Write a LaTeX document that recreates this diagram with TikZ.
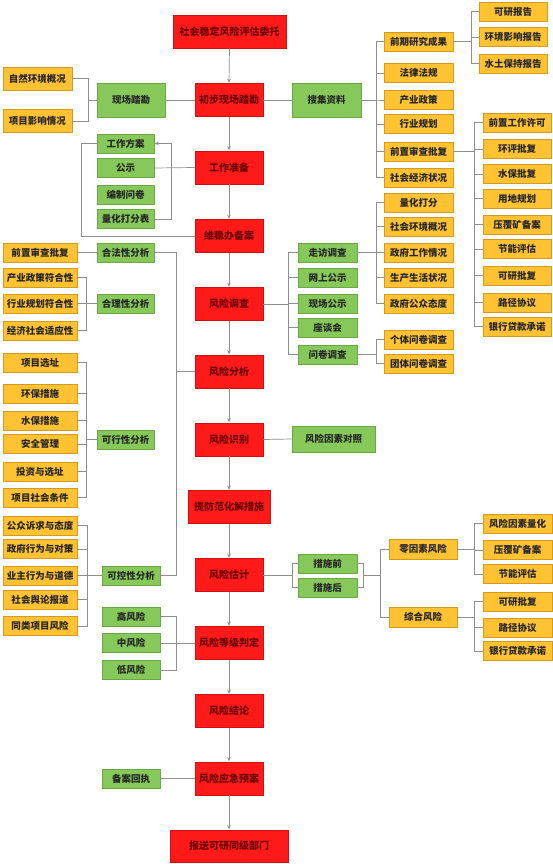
\documentclass[tikz,border=0pt]{standalone}
\usepackage{fontspec}
\setmainfont{Noto Sans CJK SC}
\usetikzlibrary{arrows.meta,calc}
\definecolor{rfill}{HTML}{FF1A1A}
\definecolor{rline}{HTML}{D01010}
\definecolor{rtext}{HTML}{6A0000}
\definecolor{gfill}{HTML}{86C95A}
\definecolor{gline}{HTML}{6AA844}
\definecolor{ofill}{HTML}{FFC233}
\definecolor{oline}{HTML}{D29A1E}
\definecolor{lcol}{HTML}{8E8E8E}
\tikzset{
  box/.style={inner sep=0pt, line width=0.8pt, font=\fontsize{9.5}{11}\selectfont\bfseries, text=black!85},
  redbox/.style={box, fill=rfill, draw=rline, text=rtext, minimum width=68pt, minimum height=33pt, font=\fontsize{10}{12}\selectfont\bfseries},
  grnbox/.style={box, fill=gfill, draw=gline, minimum width=57pt, minimum height=19pt},
  orgbox/.style={box, fill=ofill, draw=oline, minimum width=69pt, minimum height=19pt},
  conn/.style={draw=lcol, line width=0.7pt},
  flow/.style={conn, -{Stealth[length=4pt,width=3.5pt]}, shorten >=0.3pt},
}
\begin{document}
\begin{tikzpicture}[x=1pt,y=-1pt]
\useasboundingbox[fill=white] (0,0) rectangle (553,864);
% ---- main red column
\node[redbox, minimum width=113pt] (r1) at (229.5,31.5) {社会稳定风险评估委托};
\node[redbox] (r2) at (229,100) {初步现场踏勘};
\node[redbox] (r3) at (229,167.5) {工作准备};
\node[redbox] (r4) at (229,236) {维稳办备案};
\node[redbox] (r5) at (229,304) {风险调查};
\node[redbox] (r6) at (229,371.5) {风险分析};
\node[redbox] (r7) at (229,439.5) {风险识别};
\node[redbox, minimum width=82pt] (r8) at (229,507) {提防范化解措施};
\node[redbox] (r9) at (229,575) {风险估计};
\node[redbox] (r10) at (229,643) {风险等级判定};
\node[redbox] (r11) at (229,711) {风险结论};
\node[redbox] (r12) at (229,778.5) {风险应急预案};
\node[redbox, minimum width=118pt, minimum height=32pt] (r13) at (229,846) {报送可研同级部门};
\foreach \a/\b in {r1/r2,r2/r3,r3/r4,r4/r5,r5/r6,r6/r7,r7/r8,r8/r9,r9/r10,r10/r11,r11/r12,r12/r13}
  \draw[flow] (\a.south) -- (\b.north);

% ---- left: 现场踏勘
\node[grnbox, minimum width=68pt, minimum height=34pt] (xckc) at (131,100) {现场踏勘};
\node[orgbox, minimum height=23pt] (zr) at (37.5,78.5) {自然环境概况};
\node[orgbox, minimum height=23pt] (xm) at (37.5,121) {项目影响情况};
\draw[conn] (xckc.east) -- (r2.west);
\draw[conn] (zr.east) -- ++(16,0) |- (xckc.west);
\draw[conn] (xm.east) -- ++(16,0) |- (xckc.west);

% ---- left: 工作准备 group
\node[grnbox] (gzfa) at (125.5,143.5) {工作方案};
\node[grnbox] (gs) at (125.5,168) {公示};
\node[grnbox] (bzwj) at (125.5,194.5) {编制问卷};
\node[grnbox] (lh) at (125.5,219) {量化打分表};
\draw[conn] (r3.west) -- (gs.east);
\draw[flow] (lh.east) -- ++(17,0) |- (gzfa.east);
\draw[conn] (gzfa.west) -- ++(-15,0) |- (r4.west);

% ---- left: analysis
\node[grnbox] (hf) at (125.5,252.5) {合法性分析};
\node[grnbox] (hl) at (125.5,303.5) {合理性分析};
\node[grnbox] (kx) at (125.5,439.5) {可行性分析};
\node[grnbox, minimum width=58pt] (kk) at (131,575.5) {可控性分析};
\node[orgbox, minimum width=74pt] (qz) at (40,252.5) {前置审查批复};
\node[orgbox, minimum width=74pt] (cy) at (40,277.5) {产业政策符合性};
\node[orgbox, minimum width=74pt] (hy) at (40,303.5) {行业规划符合性};
\node[orgbox, minimum width=74pt] (jj) at (40,330.5) {经济社会适应性};
\node[orgbox, minimum width=74pt] (xz) at (40,362.5) {项目选址};
\node[orgbox, minimum width=74pt] (hb) at (40,393.5) {环保措施};
\node[orgbox, minimum width=74pt] (sb) at (40,420.5) {水保措施};
\node[orgbox, minimum width=74pt] (aq) at (40,444) {安全管理};
\node[orgbox, minimum width=74pt] (tz) at (40,471.5) {投资与选址};
\node[orgbox, minimum width=74pt] (sh) at (40,497.5) {项目社会条件};
\node[orgbox, minimum width=74pt] (gz) at (40,525.5) {公众诉求与态度};
\node[orgbox, minimum width=74pt] (zf) at (40,549) {政府行为与对策};
\node[orgbox, minimum width=74pt] (yz) at (40,575.5) {业主行为与道德};
\node[orgbox, minimum width=74pt] (yl) at (40,599.5) {社会舆论报道};
\node[orgbox, minimum width=74pt] (tl) at (40,626) {同类项目风险};
\draw[conn] (qz.east) -- (hf.west);
\foreach \c in {cy,hy,jj} \draw[conn] (\c.east) -- ++(9,0) |- (hl.west);
\foreach \c in {xz,hb,sb,aq,tz,sh} \draw[conn] (\c.east) -- ++(9,0) |- (kx.west);
\foreach \c in {gz,zf,yz,yl,tl} \draw[conn] (\c.east) -- ++(10,0) |- (kk.west);
\draw[conn] (hf.east) -- ++(22,0) |- (kk.east);
\draw[conn] (r6.west) -- ++(-19,0);

% ---- left: risk levels
\node[grnbox, minimum width=58pt] (gao) at (131,616.5) {高风险};
\node[grnbox, minimum width=58pt] (zhong) at (131,643) {中风险};
\node[grnbox, minimum width=58pt] (di) at (131,670) {低风险};
\node[grnbox, minimum width=58pt] (bahz) at (131,778.5) {备案回执};
\draw[conn] (zhong.east) -- (r10.west);
\draw[conn] (gao.east) -- ++(16,0) |- (r10.west);
\draw[conn] (di.east) -- ++(16,0) |- (r10.west);
\draw[conn] (bahz.east) -- (r12.west);

% ---- right: 搜集资料
\node[grnbox, minimum width=69pt, minimum height=34pt] (sjzl) at (326.5,100) {搜集资料};
\draw[conn] (r2.east) -- (sjzl.west);
\node[orgbox] (qq) at (418.5,41.5) {前期研究成果};
\node[orgbox] (fl) at (418.5,73) {法律法规};
\node[orgbox] (cyzc) at (418.5,100) {产业政策};
\node[orgbox] (hygh) at (418.5,124) {行业规划};
\node[orgbox] (qzsc) at (418.5,151.5) {前置审查批复};
\node[orgbox] (shjj) at (418.5,177.5) {社会经济状况};
\foreach \c in {qq,fl,cyzc,hygh,qzsc,shjj} \draw[conn] (sjzl.east) -- ++(15,0) |- (\c.west);

\node[orgbox, minimum width=68pt] (ky) at (513,11.5) {可研报告};
\node[orgbox, minimum width=68pt] (hj) at (513,37) {环境影响报告};
\node[orgbox, minimum width=68pt] (st) at (513,63.5) {水土保持报告};
\foreach \c in {ky,hj,st} \draw[conn] (qq.east) -- ++(18,0) |- (\c.west);

\node[orgbox, minimum width=68pt] (c1) at (517,122.5) {前置工作许可};
\node[orgbox, minimum width=68pt] (c2) at (517,149) {环评批复};
\node[orgbox, minimum width=68pt] (c3) at (517,174) {水保批复};
\node[orgbox, minimum width=68pt] (c4) at (517,198.5) {用地规划};
\node[orgbox, minimum width=68pt] (c5) at (517,224.5) {压覆矿备案};
\node[orgbox, minimum width=68pt] (c6) at (517,249) {节能评估};
\node[orgbox, minimum width=68pt] (c7) at (517,275.5) {可研批复};
\node[orgbox, minimum width=68pt] (c8) at (517,302.5) {路径协议};
\node[orgbox, minimum width=68pt] (c9) at (517,326.5) {银行贷款承诺};
\foreach \c in {c1,c2,c3,c4,c5,c6,c7,c8,c9} \draw[conn] (qzsc.east) -- ++(21,0) |- (\c.west);

% ---- right: 风险调查
\node[grnbox, minimum width=59pt] (zfdc) at (327.5,252.5) {走访调查};
\node[grnbox, minimum width=59pt] (wsgs) at (327.5,277.5) {网上公示};
\node[grnbox, minimum width=59pt] (xcgs) at (327.5,303.5) {现场公示};
\node[grnbox, minimum width=59pt] (zth) at (327.5,327.5) {座谈会};
\node[grnbox, minimum width=59pt] (wjdc) at (327.5,354.5) {问卷调查};
\foreach \c in {zfdc,wsgs,xcgs,zth,wjdc} \draw[conn] (r5.east) -- ++(25,0) |- (\c.west);

\node[orgbox] (lhdf) at (418.5,202.5) {量化打分};
\node[orgbox] (shhj) at (418.5,226.5) {社会环境概况};
\node[orgbox] (zfgz) at (418.5,252.5) {政府工作情况};
\node[orgbox] (scsh) at (418.5,277.5) {生产生活状况};
\node[orgbox] (zfgzt) at (418.5,303.5) {政府公众态度};
\foreach \c in {lhdf,shhj,zfgz,scsh,zfgzt} \draw[conn] (zfdc.east) -- ++(19,0) |- (\c.west);
\node[orgbox] (gt) at (418.5,339.5) {个体问卷调查};
\node[orgbox] (tt) at (418.5,363.5) {团体问卷调查};
\foreach \c in {gt,tt} \draw[conn] (wjdc.east) -- ++(19,0) |- (\c.west);

% ---- right: 风险识别
\node[grnbox, minimum width=83pt, minimum height=26pt] (fxys) at (333.5,439) {风险因素对照};
\draw[conn] (r7.east) -- (fxys.west);

% ---- right: 风险估计
\node[grnbox, minimum width=59pt] (csq) at (327.5,563.5) {措施前};
\node[grnbox, minimum width=59pt] (csh) at (327.5,587.5) {措施后};
\foreach \c in {csq,csh} \draw[conn] (r9.east) -- ++(29,0) |- (\c.west);
\draw[conn] (csq.east) -- ++(6,0) |- (csh.east);
\coordinate (jm) at ($(csq.east)!0.5!(csh.east)+(6,0)$);
\node[orgbox, minimum width=68pt, minimum height=20pt] (lys) at (423,549) {零因素风险};
\node[orgbox, minimum width=68pt, minimum height=20pt] (zhfx) at (423,617) {综合风险};
\foreach \c in {lys,zhfx} \draw[conn] (jm) -- ++(17,0) |- (\c.west);

\node[orgbox] (d1) at (517.5,523.5) {风险因素量化};
\node[orgbox] (d2) at (517.5,550) {压覆矿备案};
\node[orgbox] (d3) at (517.5,574) {节能评估};
\node[orgbox] (d4) at (517.5,601.5) {可研批复};
\node[orgbox] (d5) at (517.5,627.5) {路径协议};
\node[orgbox] (d6) at (517.5,651) {银行贷款承诺};
\foreach \c in {d1,d2,d3} \draw[conn] (lys.east) -- ++(17,0) |- (\c.west);
\foreach \c in {d4,d5,d6} \draw[conn] (zhfx.east) -- ++(17,0) |- (\c.west);
\end{tikzpicture}
\end{document}
